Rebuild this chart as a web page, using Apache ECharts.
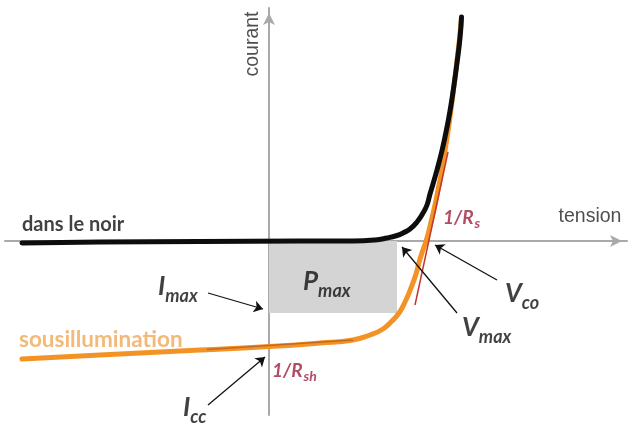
<!DOCTYPE html>
<html>
<head>
<meta charset="utf-8">
<script src="https://cdn.jsdelivr.net/npm/echarts@6/dist/echarts.min.js"></script>
<style>html,body{margin:0;padding:0;background:#fff}#c{width:632px;height:425px}</style>
</head>
<body>
<div id="c"></div>
<script>
// Schematic I-V characteristic of a solar cell (arbitrary units)
const darkV = [-2.47,-1.69,-0.69,0.31,0.84,1.06,1.18,1.28,1.34,1.41,1.48,1.54,1.58,1.61,1.64,1.67,1.70,1.73,1.76,1.79,1.82,1.85,1.88,1.91,1.925];
const darkI = [-0.02,-0.01,-0.005,0,0,0.01,0.03,0.055,0.08,0.12,0.19,0.28,0.36,0.47,0.57,0.675,0.785,0.905,1.04,1.19,1.36,1.56,1.78,2.03,2.24];
const lightV = [-2.47,-1.69,-0.69,0,0.51,0.84,1.01,1.14,1.23,1.30,1.36,1.42,1.47,1.51,1.55,1.58,1.62,1.66,1.69,1.72,1.75,1.78,1.81,1.84,1.87,1.90,1.925];
const lightI = [-1.18,-1.14,-1.09,-1.055,-1.02,-0.99,-0.94,-0.88,-0.80,-0.72,-0.61,-0.47,-0.33,-0.18,-0.06,0.03,0.19,0.36,0.51,0.66,0.84,1.03,1.24,1.47,1.72,1.98,2.22];
// tangents (slopes 1/Rs and 1/Rsh)
const rsV = [1.46, 1.79];
const rsI = [-0.64, 0.89];
const rshV = [-0.62, 0.84];
const rshI = [-1.085, -0.99];
// maximum power point
const Vmax = 1.28;
const Imax = -0.72;
// annotation arrows: start -> end
const arrowFromV = [-0.61, -0.61, 2.28, 1.88];
const arrowFromI = [-0.52, -1.64, -0.39, -0.72];
const arrowToV = [-0.06, -0.04, 1.66, 1.33];
const arrowToI = [-0.68, -1.16, -0.04, -0.06];
// text labels
const labelText = ['dans le noir','sousillumination','courant','tension','{r|1/R}{rs|s}','{b|V}{bs|co}','{b|V}{bs|max}','{b|I}{bs|max}','{r|1/R}{rs|sh}','{b|I}{bs|cc}','{b|P}{bs|max}'];
const labelV = [-2.47,-2.50,-0.165,3.21,1.74,2.36,1.93,-1.11,0.03,-0.86,0.34];
const labelI = [0.165,-0.99,1.97,0.24,0.23,-0.53,-0.87,-0.46,-1.30,-1.67,-0.41];
const labelKind = ['dark','light','axisV','axis','ann','ann','ann','ann','ann','ann','ann'];

const zip = (a, b) => a.map((v, i) => [v, b[i]]);
const rich = {
  b: {fontFamily: 'Lato', fontWeight: 'bold', fontStyle: 'italic', fontSize: 26, lineHeight: 26, color: '#111', verticalAlign: 'top'},
  bs: {fontFamily: 'Lato', fontWeight: 'bold', fontStyle: 'italic', fontSize: 18, lineHeight: 18, color: '#111', padding: [13,0,0,0], verticalAlign: 'top'},
  r: {fontFamily: 'Lato', fontWeight: 'bold', fontStyle: 'italic', fontSize: 19, lineHeight: 19, color: '#9e1f3d', verticalAlign: 'top'},
  rs: {fontFamily: 'Lato', fontWeight: 'bold', fontStyle: 'italic', fontSize: 14, lineHeight: 14, color: '#9e1f3d', padding: [8,0,0,1], verticalAlign: 'top'}
};
const kindStyle = {
  dark: {fontFamily: 'Lato', fontWeight: 'bold', fontSize: 20, color: '#111', align: 'left'},
  light: {fontFamily: 'Lato', fontWeight: 'bold', fontSize: 22.5, color: '#f0a857', align: 'left'},
  axis: {fontFamily: 'Liberation Sans', fontSize: 19.5, color: '#222', align: 'center'},
  axisV: {fontFamily: 'Liberation Sans', fontSize: 19.5, color: '#222', align: 'center', rotate: 90},
  ann: {align: 'left', rich: rich}
};
const labelData = labelText.map((t, i) => ({
  value: [labelV[i], labelI[i]],
  label: Object.assign({show: true, position: 'inside', verticalAlign: 'middle', formatter: t}, kindStyle[labelKind[i]])
}));
const arrowData = arrowFromV.map((v, i) => ({coords: [[v, arrowFromI[i]], [arrowToV[i], arrowToI[i]]]}));

const chart = echarts.init(document.getElementById('c'), null, {renderer: 'canvas'});
chart.setOption({
  animation: false,
  backgroundColor: '#fff',
  grid: {left: 5, right: 5, top: 8, bottom: 10},
  xAxis: {
    type: 'value', min: -2.64, max: 3.58,
    axisLine: {show: true, onZero: true, symbol: ['none', 'arrow'], symbolSize: [9, 12], symbolOffset: [0, -5], lineStyle: {color: '#a9a9a9', width: 2}},
    axisTick: {show: false}, axisLabel: {show: false}, splitLine: {show: false}
  },
  yAxis: {
    type: 'value', min: -1.74, max: 2.33,
    axisLine: {show: true, onZero: true, symbol: ['none', 'arrow'], symbolSize: [9, 12], symbolOffset: [0, -5], lineStyle: {color: '#a9a9a9', width: 2}},
    axisTick: {show: false}, axisLabel: {show: false}, splitLine: {show: false}
  },
  series: [
    {
      type: 'line', name: 'box', data: [], z: 1,
      markArea: {silent: true, itemStyle: {color: '#d4d4d4'}, data: [[{coord: [0, 0]}, {coord: [Vmax, Imax]}]]}
    },
    {type: 'line', name: 'sous illumination', data: zip(lightV, lightI), showSymbol: false, smooth: 0.5, lineStyle: {color: '#f39325', width: 5, join: 'round', cap: 'round'}, z: 3},
    {type: 'line', name: 'tangente Rsh', data: zip(rshV, rshI), showSymbol: false, lineStyle: {color: '#c46a1c', width: 1.5}, z: 4},
    {type: 'line', name: 'dans le noir', data: zip(darkV, darkI), showSymbol: false, smooth: 0.5, lineStyle: {color: '#0d0d0d', width: 5, join: 'round', cap: 'round'}, z: 5},
    {type: 'line', name: 'tangente Rs', data: zip(rsV, rsI), showSymbol: false, lineStyle: {color: '#c0392b', width: 1.5}, z: 6},
    {type: 'lines', coordinateSystem: 'cartesian2d', data: arrowData, symbol: ['none', 'arrow'], symbolSize: 9, lineStyle: {color: '#111', width: 1.3, opacity: 1}, z: 7},
    {type: 'scatter', data: labelData, symbolSize: 0, z: 8}
  ]
});
</script>
</body>
</html>
